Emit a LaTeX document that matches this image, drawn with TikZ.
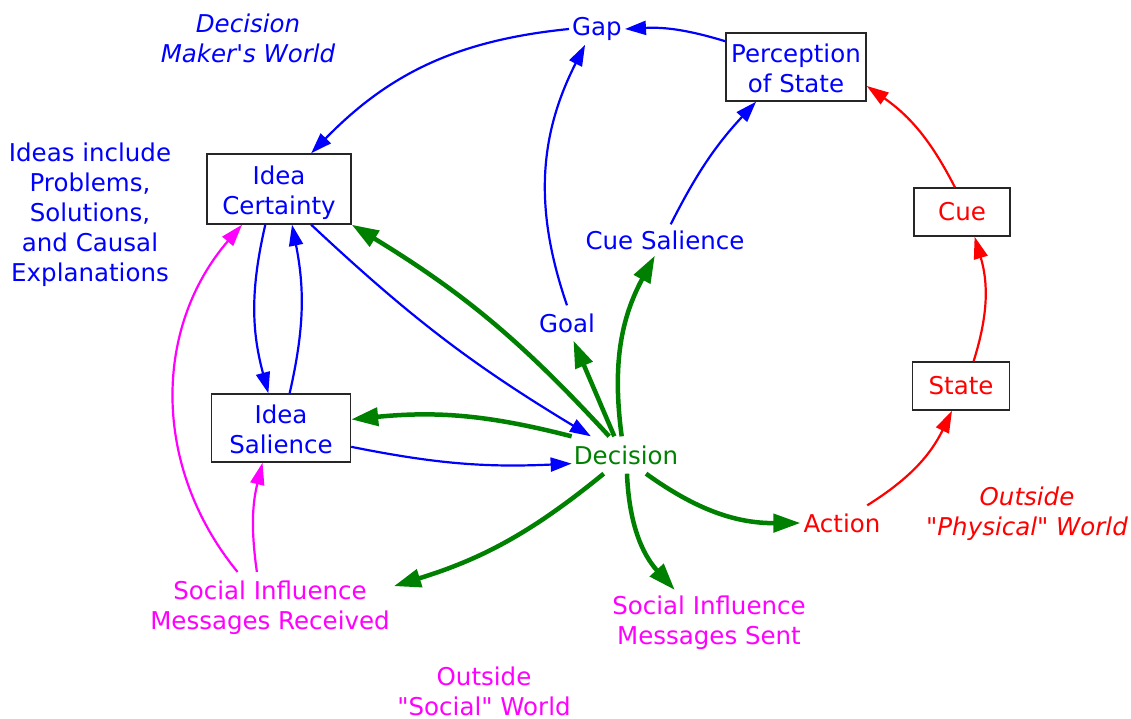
\documentclass[tikz,border=0pt]{standalone}
\usepackage{fontspec}
\setmainfont{DejaVu Sans}
\usetikzlibrary{arrows.meta}
\definecolor{dmblue}{RGB}{0,0,255}
\definecolor{dmgreen}{RGB}{0,128,0}
\definecolor{dmred}{RGB}{255,0,0}
\definecolor{dmpink}{RGB}{255,0,255}
\def\dmfont{\fontsize{24.5}{30}\selectfont}
\tikzset{
  txt/.style={font=\dmfont, align=center, inner xsep=3pt, inner ysep=8pt},
  slanted/.style={txt, font=\dmfont\itshape},
  box/.style={txt, draw=black!85, line width=1.4pt, inner sep=0pt},
  twoline/.style={text height=51pt, text depth=0pt},
  bluelink/.style={draw=dmblue, line width=2.2pt, -{Triangle[length=21pt,width=14pt]}},
  greenlink/.style={draw=dmgreen, line width=4.5pt, -{Triangle[length=27pt,width=18pt]}},
  redlink/.style={draw=dmred, line width=2.2pt, -{Triangle[length=22pt,width=14pt]}},
  pinklink/.style={draw=dmpink, line width=2.2pt, -{Triangle[length=22pt,width=14pt]}}
}

\begin{document}
\begin{tikzpicture}[x=1pt, y=-1pt]
			%%%%% START %%%%%
			\useasboundingbox (0,0) rectangle (1131,719);
			
			% decision maker's world
			\node[slanted, text=dmblue] (dmworld) at (248,38) {Decision\\Maker\textquotesingle s World};
			\node[txt, text=dmblue] (ideas) at (90,215) {Ideas include\\Problems,\\Solutions,\\and Causal\\Explanations};
			\node[txt, text=dmblue, inner ysep=4pt] (gap) at (597,29) {Gap};
			\node[box, twoline, text=dmblue, minimum width=140pt, minimum height=68pt] (percep) at (796,67) {Perception\\of State};
			\node[box, twoline, text=dmblue, minimum width=144pt, minimum height=70pt] (idcert) at (279,189) {Idea\\Certainty};
			\node[box, twoline, text=dmblue, minimum width=139pt, minimum height=68pt] (idsal) at (281,428) {Idea\\Salience};
			\node[txt, text=dmblue, inner ysep=6pt] (cuesal) at (665,240) {Cue Salience};
			\node[txt, text=dmblue] (goal) at (567,323) {Goal};
			\node[txt, text=dmgreen, inner xsep=2pt, inner ysep=9pt] (dec) at (626,455) {Decision};
			
			% outside physical world
			\node[box, text=dmred, minimum width=96pt, minimum height=48pt] (cue) at (962,212) {Cue};
			\node[box, text=dmred, minimum width=97pt, minimum height=48pt] (state) at (961,386) {State};
			\node[txt, text=dmred] (action) at (842,523) {Action};
			\node[slanted, text=dmred] (physworld) at (1027,514) {Outside\\\textquotedbl Physical\textquotedbl{} World};
			
			% outside social world
			\node[txt, text=dmpink, inner xsep=4pt, inner ysep=9pt] (msgrec) at (270,608) {Social Influence\\Messages Received};
			\node[txt, text=dmpink, inner xsep=6pt, inner ysep=6pt] (msgsent) at (709,623) {Social Influence\\Messages Sent};
			\node[txt, text=dmpink] (socworld) at (484,691) {Outside\\\textquotedbl Social\textquotedbl{} World};
			
			% blue links
			\draw[bluelink] (percep.160) to[bend right=10] (gap.east);
			\draw[bluelink] (gap.west) to[bend right=20] (idcert.48);
			\draw[bluelink] (goal.north) to[bend left=23] (gap.233);
			\draw[bluelink] (cuesal.70) to[bend left=8] (percep.221);
			\draw[bluelink] (idcert.249) to[bend right=14] (idsal.110);
			\draw[bluelink] (idsal.76) to[bend right=12] (idcert.290);
			\draw[bluelink] (idcert.312) to[bend right=6] (dec.152);
			\draw[bluelink] (idsal.345) to[bend right=7] (dec.189);
			
			% green links
			\draw[greenlink] (dec.132) to[bend right=8] (idcert.south east);
			\draw[greenlink] (dec.north west) to[bend right=10] (idsal.7);
			\draw[greenlink] (dec.122) -- (goal.290);
			\draw[greenlink] (dec.103) to[bend left=18] (cuesal.237);
			\draw[greenlink] (dec.220) to[bend left=11] (msgrec.10);
			\draw[greenlink] (dec.273) to[bend right=20] (msgsent.136);
			\draw[greenlink] (dec.317) to[bend right=18] (action.west);
			
			% red links
			\draw[redlink] (action.35) to[bend right=16] (state.250);
			\draw[redlink] (state.63) to[bend right=17] (cue.297);
			\draw[redlink] (cue.106) to[bend right=14] (percep.345);
			
			% pink links
			\draw[pinklink] (msgrec.132) to[bend left=40] (idcert.224);
			\draw[pinklink] (msgrec.110) to[bend left=11] (idsal.242);
			%%%%% END %%%%%
\end{tikzpicture}
\end{document}
